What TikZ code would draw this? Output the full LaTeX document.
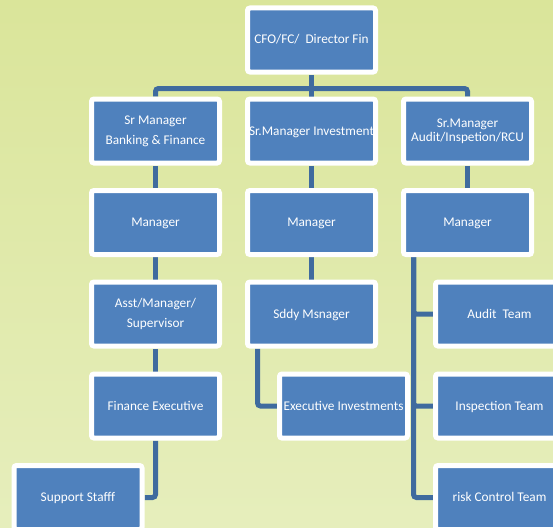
\documentclass[tikz,border=0pt]{standalone}
\usepackage{fontspec}
\setmainfont{Carlito}
\usetikzlibrary{calc}
\definecolor{boxblue}{HTML}{4F81BD}
\definecolor{linkblue}{HTML}{3F6B9E}
\definecolor{bgtop}{HTML}{DAE59A}
\definecolor{bgbot}{HTML}{E6EEBC}
\pgfdeclarelayer{under}
\pgfsetlayers{under,main}
\tikzset{
  orgbox/.style={draw=white, line width=5pt, fill=boxblue, rounded corners=2.5pt,
    minimum width=128pt, minimum height=64pt, inner sep=0pt, text=white,
    align=center, font=\fontsize{13.3}{20}\selectfont},
  oneline/.style={orgbox, text height=11pt, text depth=3pt},
  link/.style={draw=linkblue, line width=5pt, rounded corners=3pt},
}
\begin{document}
\begin{tikzpicture}[x=1pt,y=-1pt]
\useasboundingbox (0,0) rectangle (553,527);
% row 0
\node[oneline] (cfo) at (311.5,40) {CFO/FC/~ Director Fin};
% row 1
\node[orgbox] (b1) at (155.5,131) {Sr Manager\\Banking \& Finance};
\node[oneline] (m1) at (311.5,131) {Sr.Manager Investment};
\node[orgbox, font=\fontsize{13.3}{14}\selectfont] (a1) at (467.5,131) {Sr.Manager\\Audit/Inspetion/RCU};
% row 2
\node[oneline] (bm) at (155.5,222.5) {Manager};
\node[oneline] (mm) at (311.5,222.5) {Manager};
\node[oneline] (am) at (467.5,222.5) {Manager};
% row 3
\node[orgbox] (bs) at (155.5,314) {Asst/Manager/\\Supervisor};
\node[oneline] (sd) at (311.5,314) {Sddy Msnager};
\node[oneline] (at) at (499.5,314) {Audit~ Team};
% row 4
\node[oneline] (fe) at (155.5,406) {Finance Executive};
\node[oneline] (ei) at (343.5,406) {Executive Investments};
\node[oneline] (it) at (499.5,406) {Inspection Team};
% row 5
\node[oneline] (ss) at (78,497.5) {Support Stafff};
\node[oneline] (rc) at (499.5,497.5) {risk Control Team};

\begin{pgfonlayer}{under}
\fill[top color=bgtop, bottom color=bgbot] (0,0) rectangle (553,527);
\coordinate (bus) at ($(cfo.south)+(0,14)$);
\draw[link] (cfo.south) -- (m1.north);
\draw[link] (bus) -| (b1.north);
\draw[link] (bus) -| (a1.north);
\draw[link] (b1.south) -- (bm.north);
\draw[link] (bm.south) -- (bs.north);
\draw[link] (bs.south) -- (fe.north);
\draw[link] (fe.south) |- (ss.east);
\draw[link] (m1.south) -- (mm.north);
\draw[link] (mm.south) -- (sd.north);
\coordinate (sv) at ($(sd.south west)+(12.5,0)$);
\draw[link] (sv) |- (ei.west);
\draw[link] (a1.south) -- (am.north);
\coordinate (rv) at ($(am.south west)+(12.5,0)$);
\draw[link] (rv) |- (at.west);
\draw[link] (rv) |- (it.west);
\draw[link] (rv) |- (rc.west);
\end{pgfonlayer}
\end{tikzpicture}
\end{document}
